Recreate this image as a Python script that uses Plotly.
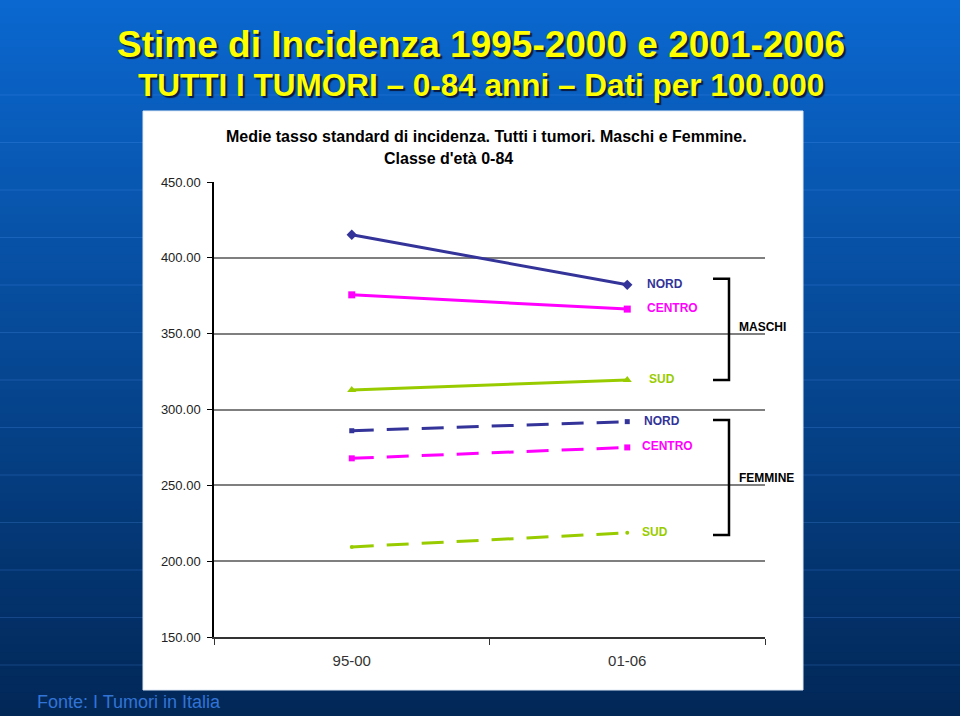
import plotly.graph_objects as go

# data (tasso standard di incidenza, per 100.000)
periodi = ["95-00", "01-06"]
maschi_nord = [415.2, 382.2]
maschi_centro = [375.6, 366.2]
maschi_sud = [312.9, 319.5]
femmine_nord = [286.0, 292.0]
femmine_centro = [267.8, 275.0]
femmine_sud = [209.4, 218.7]

NORD = "#333399"
CENTRO = "#ff00ff"
SUD = "#99cc00"

W, H = 960, 716
L, R, T, B = 214, 765, 182, 637  # plot area in pixels


def px2x(px):
    return (px - L) / (R - L)


def py2y(py):
    return (B - py) / (B - T)


fig = go.Figure()

series = [
    ("Maschi NORD", maschi_nord, NORD, "solid", "diamond", 8),
    ("Maschi CENTRO", maschi_centro, CENTRO, "solid", "square", 7),
    ("Maschi SUD", maschi_sud, SUD, "solid", "triangle-up", 8),
    ("Femmine NORD", femmine_nord, NORD, "22px,13px", "square", 5),
    ("Femmine CENTRO", femmine_centro, CENTRO, "22px,13px", "square", 6),
    ("Femmine SUD", femmine_sud, SUD, "22px,13px", "circle", 4),
]
for name, vals, col, dash, sym, size in series:
    fig.add_trace(go.Scatter(x=periodi, y=vals, name=name, mode="lines+markers",
                             line=dict(color=col, width=3, dash=dash),
                             marker=dict(symbol=sym, size=size, color=col)))

# slide background: vertical blue gradient made of bands
shapes = []
n = 90
top = (11, 104, 208)
bot = (2, 40, 88)
for i in range(n):
    t = i / (n - 1)
    c = tuple(int(top[k] + (bot[k] - top[k]) * t) for k in range(3))
    y0 = H * i / n
    y1 = H * (i + 1) / n + 1
    shapes.append(dict(type="rect", xref="paper", yref="paper", layer="below",
                       x0=px2x(0), x1=px2x(W), y0=py2y(y1), y1=py2y(y0),
                       line=dict(width=0), fillcolor="rgb(%d,%d,%d)" % c))
# faint horizontal lines of the slide design
for k in range(13):
    py = 95 + 47.5 * k
    shapes.append(dict(type="line", xref="paper", yref="paper", layer="below",
                       x0=px2x(0), x1=px2x(W), y0=py2y(py), y1=py2y(py),
                       line=dict(color="rgba(90,160,255,0.22)", width=1)))
# white chart panel
shapes.append(dict(type="rect", xref="paper", yref="paper", layer="below",
                   x0=px2x(143), x1=px2x(803), y0=py2y(690), y1=py2y(111),
                   line=dict(color="#dfe8f5", width=1), fillcolor="white"))

# brackets MASCHI / FEMMINE
bx0, bx1 = px2x(713), px2x(729)
for ytop, ybot in [(386.2, 319.5), (293.1, 217.2)]:
    shapes.append(dict(type="path", xref="paper", yref="y",
                       path="M %f,%f L %f,%f L %f,%f L %f,%f" % (bx0, ytop, bx1, ytop, bx1, ybot, bx0, ybot),
                       line=dict(color="black", width=2.5)))

annotations = []
# slide titles
annotations.append(dict(text="<b>Stime di Incidenza 1995-2000 e 2001-2006</b>", xref="paper", yref="paper",
                        x=px2x(481), y=py2y(45), showarrow=False, xanchor="center", yanchor="middle",
                        font=dict(family="Liberation Sans, Arial", size=37, color="#ffff00",
                                  shadow="2px 2px 1px #0a1a40")))
annotations.append(dict(text="<b>TUTTI I TUMORI – 0-84 anni – Dati per 100.000</b>", xref="paper", yref="paper",
                        x=px2x(481), y=py2y(85), showarrow=False, xanchor="center", yanchor="middle",
                        font=dict(family="Liberation Sans, Arial", size=31.5, color="#ffff00",
                                  shadow="2px 2px 1px #0a1a40")))
# chart title
annotations.append(dict(text="<b>Medie tasso standard di incidenza. Tutti i tumori. Maschi e Femmine.</b>",
                        xref="paper", yref="paper", x=px2x(486), y=py2y(137), showarrow=False,
                        xanchor="center", yanchor="middle",
                        font=dict(family="Liberation Sans, Arial", size=16, color="black")))
annotations.append(dict(text="<b>Classe d'età 0-84</b>",
                        xref="paper", yref="paper", x=px2x(448), y=py2y(158), showarrow=False,
                        xanchor="center", yanchor="middle",
                        font=dict(family="Liberation Sans, Arial", size=16, color="black")))

# series labels at the end of each line
labels = [("NORD", maschi_nord, NORD, 18), ("CENTRO", maschi_centro, CENTRO, 18), ("SUD", maschi_sud, SUD, 20),
          ("NORD", femmine_nord, NORD, 15), ("CENTRO", femmine_centro, CENTRO, 13), ("SUD", femmine_sud, SUD, 13)]
for txt, vals, col, sh in labels:
    annotations.append(dict(text="<b>%s</b>" % txt, xref="x", yref="y", x=periodi[-1], y=vals[-1],
                            xshift=sh, yshift=1, showarrow=False, xanchor="left", yanchor="middle",
                            font=dict(family="Liberation Sans, Arial", size=12, color=col)))
annotations.append(dict(text="<b>MASCHI</b>", xref="paper", yref="y", x=px2x(737), y=354.7, showarrow=False,
                        xanchor="left", yanchor="middle",
                        font=dict(family="Liberation Sans, Arial", size=12, color="black")))
annotations.append(dict(text="<b>FEMMINE</b>", xref="paper", yref="y", x=px2x(737), y=255, showarrow=False,
                        xanchor="left", yanchor="middle",
                        font=dict(family="Liberation Sans, Arial", size=12, color="black")))
# source
annotations.append(dict(text="Fonte: I Tumori in Italia", xref="paper", yref="paper",
                        x=px2x(35), y=py2y(702), showarrow=False, xanchor="left", yanchor="middle",
                        font=dict(family="Liberation Sans, Arial", size=18, color="#3274d6")))

fig.update_layout(
    width=W, height=H,
    margin=dict(l=L, r=W - R, t=T, b=H - B, pad=0),
    paper_bgcolor="#06407f",
    plot_bgcolor="rgba(0,0,0,0)",
    showlegend=False,
    shapes=shapes,
    annotations=annotations,
    font=dict(family="Liberation Sans, Arial", color="#222"),
)
fig.update_xaxes(type="category", range=[-0.5, 1.5], tickson="boundaries", ticks="outside", ticklen=6,
                 tickcolor="#333", showline=True, linecolor="#333", linewidth=2, showgrid=False,
                 zeroline=False, tickfont=dict(size=15, color="#333"), ticklabelstandoff=9)
fig.update_yaxes(range=[150, 450], dtick=50, tickformat=".2f", ticks="outside", ticklen=5,
                 tickcolor="black", showline=True, linecolor="black", linewidth=1.5,
                 showgrid=True, gridcolor="#7f7f7f", gridwidth=1.5, zeroline=False,
                 tickfont=dict(size=13, color="#222"), ticklabelstandoff=4)

fig.write_html("out.html", config={"displayModeBar": False},
               post_script="document.body.style.margin='0';document.body.style.overflow='hidden';")
